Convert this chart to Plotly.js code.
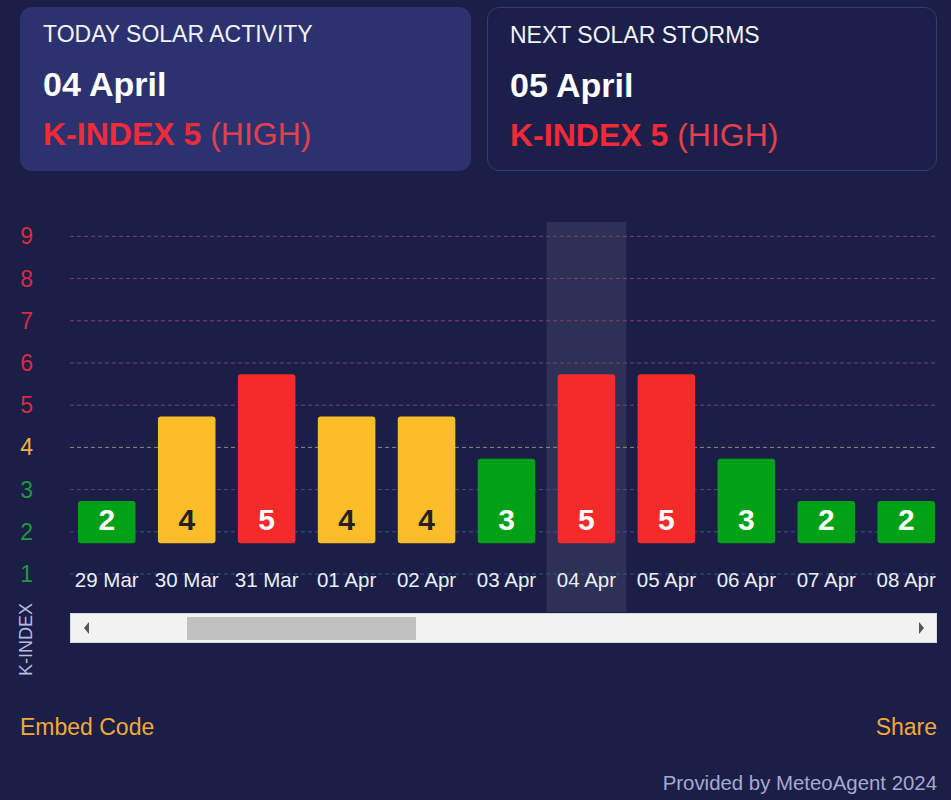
<!DOCTYPE html>
<html>
<head>
<meta charset="utf-8">
<script src="https://cdn.plot.ly/plotly-3.0.1.min.js"></script>
<style>
  html, body { margin: 0; padding: 0; background: #1b1e47; }
  body { width: 951px; height: 800px; position: relative; overflow: hidden; font-family: "Liberation Sans", Arial, sans-serif; }
  #chart { position: absolute; left: 0; top: 0; width: 951px; height: 800px; }
  .card { position: absolute; top: 7px; height: 164px; border-radius: 12px; box-sizing: border-box; }
  .card1 { left: 20px; width: 451px; background: #2c3270; }
  .card2 { left: 487px; width: 450px; border: 1px solid #343a74; background: #1c1f4a; }
  .t { position: absolute; white-space: nowrap; }
  .ttl { font-size: 23px; line-height: 23px; color: #f2f2f7; top: 16px; }
  .date { font-size: 34px; line-height: 34px; font-weight: bold; color: #ffffff; top: 60px; }
  .kidx { font-size: 32px; line-height: 32px; color: #f02a36; top: 111px; }
  .kidx b { font-weight: bold; }
  .kidx span { color: #e2404e; }
  .foot { position: absolute; white-space: nowrap; }
  #embed { left: 20px; top: 716px; font-size: 23px; line-height: 23px; color: #f0a93a; }
  #share { right: 14px; top: 716px; font-size: 23px; line-height: 23px; color: #f0a93a; }
  #prov { right: 14px; top: 773px; font-size: 20.4px; line-height: 20px; color: #a7aad0; }
  #scroll { position: absolute; left: 70px; top: 613px; width: 867px; height: 30px; background: #f2f2f2; box-sizing: border-box; border: 1px solid #d8d8d8; }
  #thumb { position: absolute; left: 116px; top: 3px; width: 229px; height: 23px; background: #c1c1c1; }
  .arrL { position: absolute; left: 13px; top: 8px; width: 0; height: 0; border-top: 6px solid transparent; border-bottom: 6px solid transparent; border-right: 5px solid #555; }
  .arrR { position: absolute; right: 12px; top: 8px; width: 0; height: 0; border-top: 6px solid transparent; border-bottom: 6px solid transparent; border-left: 5px solid #555; }
</style>
</head>
<body>
<div id="chart"></div>

<div class="card card1">
  <div class="t ttl" style="left:23px">TODAY SOLAR ACTIVITY</div>
  <div class="t date" style="left:23px">04 April</div>
  <div class="t kidx" style="left:23px"><b>K-INDEX 5</b> <span>(HIGH)</span></div>
</div>
<div class="card card2">
  <div class="t ttl" style="left:22px">NEXT SOLAR STORMS</div>
  <div class="t date" style="left:22px">05 April</div>
  <div class="t kidx" style="left:22px"><b>K-INDEX 5</b> <span>(HIGH)</span></div>
</div>

<div id="scroll"><div class="arrL"></div><div id="thumb"></div><div class="arrR"></div></div>

<div class="foot" id="embed">Embed Code</div>
<div class="foot" id="share">Share</div>
<div class="foot" id="prov">Provided by MeteoAgent 2024</div>

<script>
// ---- data ----
const categories = ['29 Mar','30 Mar','31 Mar','01 Apr','02 Apr','03 Apr','04 Apr','05 Apr','06 Apr','07 Apr','08 Apr'];
const kIndex = [2, 4, 5, 4, 4, 3, 5, 5, 3, 2, 2];
const levels = [1, 2, 3, 4, 5, 6, 7, 8, 9];
const todayCategory = '04 Apr';

// ---- style ----
const BAR_BASE = 1;
const TICK_OFFSET = 0.73;
const barColor = k => k <= 3 ? '#00a116' : (k === 4 ? '#fcbd2b' : '#f52a2a');
const labelColor = k => k <= 3 ? '#1f9a3c' : (k === 4 ? '#f0b43a' : '#d92b3c');
const gridColor = k => k <= 3 ? '#434c82' : (k === 4 ? '#8e8a84' : '#8a3a6e');
const textColor = k => k === 4 ? '#222222' : '#ffffff';

const bars = {
  type: 'bar',
  x: categories,
  y: kIndex.map(v => v - BAR_BASE),
  base: BAR_BASE,
  width: 0.72,
  marker: { color: kIndex.map(barColor), cornerradius: 3, line: { width: 0 } },
  hoverinfo: 'skip'
};

const labels = {
  type: 'scatter',
  mode: 'text',
  x: categories,
  y: kIndex.map(() => BAR_BASE + 0.48),
  text: kIndex.map(String),
  textposition: 'middle center',
  textfont: { family: 'Liberation Sans, Arial, sans-serif', size: 30, weight: 'bold', color: kIndex.map(textColor) },
  hoverinfo: 'skip',
  cliponaxis: false
};

const todayIdx = categories.indexOf(todayCategory);
const shapes = [{
  type: 'rect', layer: 'below', xref: 'x', yref: 'paper',
  x0: todayIdx - 0.5, x1: todayIdx + 0.5, y0: 0, y1: 1,
  fillcolor: 'rgba(255,255,255,0.085)', line: { width: 0 }
}];
levels.forEach(k => shapes.push({
  type: 'line', layer: 'below', xref: 'paper', yref: 'y',
  x0: 0, x1: 1, y0: k - TICK_OFFSET, y1: k - TICK_OFFSET,
  line: { color: gridColor(k), width: 1, dash: '4px,3px' }
}));

const layout = {
  width: 951, height: 800,
  margin: { l: 70, r: 14, t: 222, b: 188 },
  paper_bgcolor: 'rgba(0,0,0,0)',
  plot_bgcolor: 'rgba(0,0,0,0)',
  showlegend: false,
  hovermode: false,
  font: { family: 'Liberation Sans, Arial, sans-serif' },
  xaxis: {
    type: 'category',
    range: [-0.46, 10.385],
    anchor: 'free',
    position: 0.118,
    showgrid: false, zeroline: false, showline: false,
    ticks: '',
    tickfont: { size: 20.5, color: '#eceef7' },
    fixedrange: true
  },
  yaxis: {
    range: [-0.63, 8.61],
    showgrid: false, zeroline: false, showline: false,
    ticks: '',
    tickvals: levels.map(k => k - TICK_OFFSET),
    ticktext: levels.map(k => '<span style="color:' + labelColor(k) + '">' + k + '</span>'),
    ticklabelstandoff: 36,
    tickfont: { size: 23 },
    fixedrange: true
  },
  shapes: shapes,
  annotations: [{
    text: 'K-INDEX', textangle: -90, showarrow: false,
    xref: 'paper', yref: 'paper', x: (26 - 70) / 867, y: (612 - 640) / 390,
    xanchor: 'center', yanchor: 'middle',
    font: { size: 18, color: '#b9bce0' }
  }]
};

Plotly.newPlot('chart', [bars, labels], layout, { staticPlot: true, displayModeBar: false });
</script>
</body>
</html>
